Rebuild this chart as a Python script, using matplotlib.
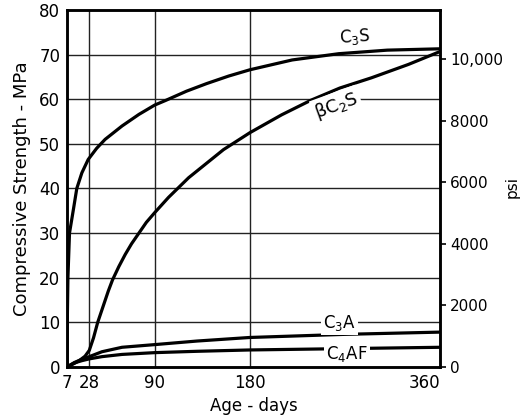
import matplotlib.pyplot as plt

plt.rcParams['font.family'] = 'DejaVu Sans'
plt.rcParams['mathtext.default'] = 'regular'

# strength development of the pure clinker compounds (MPa vs age in days)
c3s_days = [7, 7.2, 7.8, 9.3, 13.2, 16.2, 21, 27, 35, 43, 59, 75, 90, 100, 120, 139, 160, 180, 220, 264, 310, 360]
c3s_mpa = [0, 10, 20, 30, 35.6, 40, 43.5, 46.5, 49, 51, 54, 56.6, 58.7, 59.7, 61.8, 63.5, 65.2, 66.6, 68.8, 70.2, 71, 71.3]

c2s_days = [7, 14, 19, 24, 28, 32, 36, 41, 46, 50, 56, 62, 68, 75, 82, 90, 103, 122, 155, 180, 210, 238, 265, 295, 330, 360]
c2s_mpa = [0, 0.8, 1.5, 2.4, 3.7, 6.5, 10, 13.5, 17, 19.5, 22.5, 25.2, 27.6, 30, 32.4, 34.6, 38, 42.4, 48.7, 52.5, 56.5, 59.8, 62.5, 64.8, 67.8, 70.7]

c3a_days = [7, 14, 21, 28, 40, 59, 90, 130, 180, 270, 360]
c3a_mpa = [0, 1.0, 1.7, 2.3, 3.4, 4.4, 5.0, 5.8, 6.6, 7.3, 7.8]

c4af_days = [7, 14, 21, 28, 40, 59, 90, 130, 180, 270, 360]
c4af_mpa = [0, 0.9, 1.4, 1.8, 2.3, 2.8, 3.2, 3.5, 3.8, 4.1, 4.4]

x_ticks = [7, 28, 90, 180, 360]
mpa_ticks = [0, 10, 20, 30, 40, 50, 60, 70, 80]
psi_ticks = [0, 2000, 4000, 6000, 8000, 10000]
psi_labels = ['0', '2000', '4000', '6000', '8000', '10,000']
MPA_TO_PSI = 145.04

fig = plt.figure(figsize=(5.24, 4.16), dpi=100)
ax = fig.add_axes([0.128, 0.118, 0.712, 0.858])

# grid lines
for y in mpa_ticks[1:-1]:
    ax.axhline(y, color='#222222', lw=1.0, zorder=1)
for x in [28, 90, 180]:
    ax.axvline(x, color='#222222', lw=1.0, zorder=1)

lw = 2.3
ax.plot(c3s_days, c3s_mpa, color='black', lw=lw, zorder=3)
ax.plot(c2s_days, c2s_mpa, color='black', lw=lw, zorder=3)
ax.plot(c3a_days, c3a_mpa, color='black', lw=lw, zorder=3)
ax.plot(c4af_days, c4af_mpa, color='black', lw=lw, zorder=3)

box = dict(facecolor='white', edgecolor='none', pad=1.5)
ax.text(279, 74.0, 'C$_3$S', fontsize=12, rotation=4, ha='center', va='center', zorder=4)
ax.text(262, 58.6, 'βC$_2$S', fontsize=13, rotation=20, ha='center', va='center', bbox=box, zorder=4)
ax.text(265, 9.8, 'C$_3$A', fontsize=12, ha='center', va='center', bbox=box, zorder=4)
ax.text(272, 3.0, 'C$_4$AF', fontsize=12, ha='center', va='center', bbox=box, zorder=4)

ax.set_xlim(7, 360)
ax.set_ylim(0, 80)
ax.set_xticks(x_ticks)
ax.set_yticks(mpa_ticks)
ax.tick_params(axis='both', length=0, labelsize=12, pad=5)
ax.get_xticklabels()[-1].set_horizontalalignment('right')
ax.set_xlabel('Age - days', fontsize=12, labelpad=4)
ax.set_ylabel('Compressive Strength - MPa', fontsize=13, labelpad=6)
for s in ax.spines.values():
    s.set_linewidth(1.8)

ax2 = ax.twinx()
ax2.set_ylim(0, 80 * MPA_TO_PSI)
ax2.set_yticks(psi_ticks)
ax2.set_yticklabels(psi_labels)
ax2.tick_params(axis='y', length=4, width=1.2, labelsize=11, pad=3)
for s in ax2.spines.values():
    s.set_linewidth(1.8)
fig.text(0.978, 0.55, 'psi', rotation=90, fontsize=11, ha='center', va='center')

fig.savefig('out.png', dpi=100)
